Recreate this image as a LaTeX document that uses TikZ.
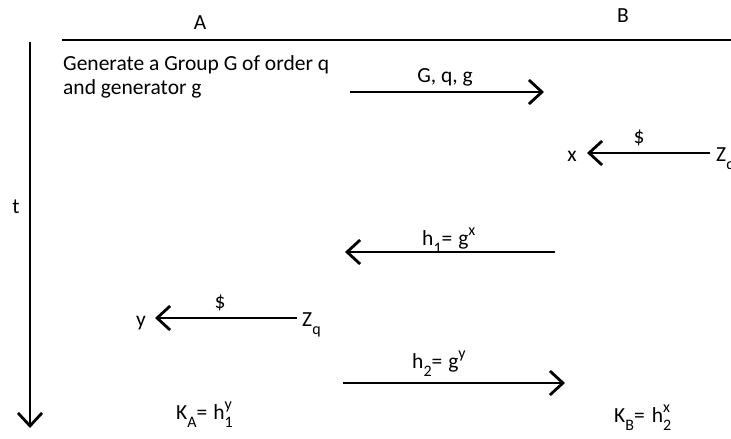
\documentclass[tikz,border=0pt]{standalone}
\usepackage{fontspec}
\setmainfont{Carlito}
\usetikzlibrary{arrows.meta,positioning}
\newcommand{\lo}[1]{\raisebox{-8pt}{\fontsize{16}{16}\selectfont #1}}
\newcommand{\hi}[1]{\raisebox{10pt}{\fontsize{16}{16}\selectfont #1}}
\newcommand{\hilo}[2]{\rlap{\hi{#1}}\lo{#2}}
\tikzset{
  >={Straight Barb[length=13pt,width=24pt]},
  rule/.style={line width=2.6pt},
  msg/.style={->,line width=2.8pt},
  lbl/.style={font=\fontsize{21.5}{24}\selectfont,inner sep=0pt,anchor=base},
  lblw/.style={lbl,anchor=base west},
}

\begin{document}
\begin{tikzpicture}[x=1pt,y=-1pt]
  \useasboundingbox (0,0) rectangle (731,439);
  % parties and time line
  \node[lbl] (partyA) at (200,29) {A};
  \node[lbl] (partyB) at (623,23) {B};
  \coordinate (ruleL) at (62,40);
  \coordinate (ruleR) at (731,40);
  \draw[rule] (ruleL) -- (ruleR);
  \coordinate (tTop) at (30,42);
  \coordinate (tBot) at (30,428);
  \draw[msg] (tTop) -- (tBot);
  \node[lbl] (t) at (16,213) {t};
  % A sets up the group
  \node[lbl,anchor=north west,align=left] (setup) at (63,55.5)
    {Generate a Group G of order q\\and generator g};
  \coordinate (m1a) at (350,92);
  \coordinate (m1b) at (544,92);
  \draw[msg] (m1a) -- (m1b);
  \node[lbl] (m1lbl) at (445,82) {G, q, g};
  % B picks x
  \node[lbl] (xB) at (572,161) {x};
  \node[lblw] (zqB) at (716,161) {Z\lo{q}};
  \coordinate (m2a) at (710,153);
  \coordinate (m2b) at (587,153);
  \draw[msg] (m2a) -- (m2b);
  \node[lbl] (m2lbl) at (639,143) {\$};
  % B sends h1
  \coordinate (m3a) at (555,252);
  \coordinate (m3b) at (345,252);
  \draw[msg] (m3a) -- (m3b);
  \node[lblw] (m3lbl) at (422,245) {h\lo{1}=\hspace{6pt}g\hi{x}};
  % A picks y
  \node[lbl] (yA) at (141,326) {y};
  \node[lblw] (zqA) at (302,326) {Z\lo{q}};
  \coordinate (m4a) at (297,318);
  \coordinate (m4b) at (155,318);
  \draw[msg] (m4a) -- (m4b);
  \node[lbl] (m4lbl) at (220,308) {\$};
  % A sends h2
  \coordinate (m5a) at (343,383);
  \coordinate (m5b) at (565,383);
  \draw[msg] (m5a) -- (m5b);
  \node[lblw] (m5lbl) at (412,368) {h\lo{2}=\hspace{6pt}g\hi{y}};
  % shared keys
  \node[lblw] (keyA) at (176,419) {K\lo{A}=\hspace{6pt}h\hilo{y}{1}};
  \node[lblw] (keyB) at (614,422) {K\lo{B}=\hspace{7pt}h\hilo{x}{2}};
\end{tikzpicture}
\end{document}
